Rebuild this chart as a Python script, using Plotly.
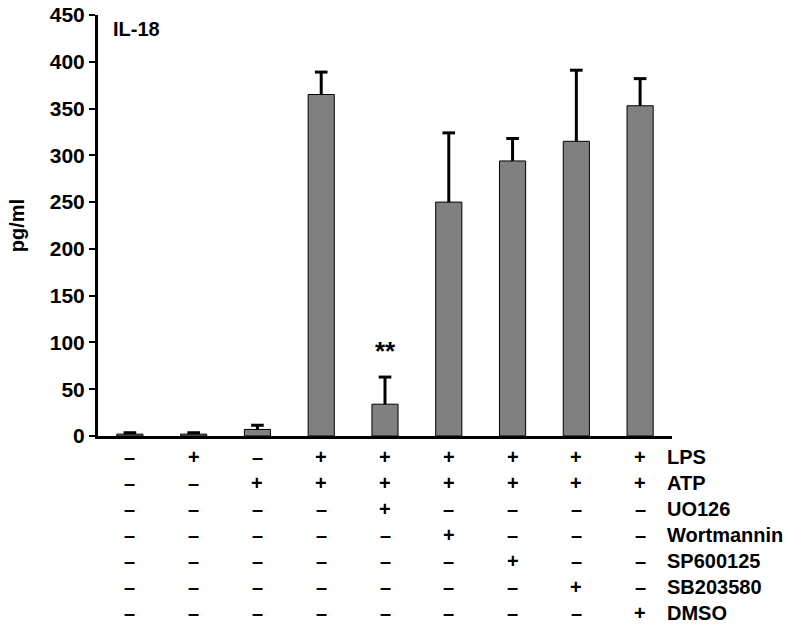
import plotly.graph_objects as go

# Data
conditions = ["c1", "c2", "c3", "c4", "c5", "c6", "c7", "c8", "c9"]
values = [2, 2, 7, 365, 34, 250, 294, 315, 353]
errors = [1.5, 1.5, 4.5, 24, 29, 74, 24, 76, 29]
row_labels = ["LPS", "ATP", "UO126", "Wortmannin", "SP600125", "SB203580", "DMSO"]
table = [
    ["–", "+", "–", "+", "+", "+", "+", "+", "+"],
    ["–", "–", "+", "+", "+", "+", "+", "+", "+"],
    ["–", "–", "–", "–", "+", "–", "–", "–", "–"],
    ["–", "–", "–", "–", "–", "+", "–", "–", "–"],
    ["–", "–", "–", "–", "–", "–", "+", "–", "–"],
    ["–", "–", "–", "–", "–", "–", "–", "+", "–"],
    ["–", "–", "–", "–", "–", "–", "–", "–", "+"],
]
tick_vals = [0, 50, 100, 150, 200, 250, 300, 350, 400, 450]
significance = {4: "**"}
panel_label = "IL-18"
y_title = "pg/ml"

FONT = "Liberation Sans, Arial, sans-serif"
W, H = 800, 630
ML, MR, MT, MB = 98, 128, 15, 194
plot_h = H - MT - MB
plot_w = W - ML - MR

xs = list(range(len(conditions)))
tops = [v + e for v, e in zip(values, errors)]

fig = go.Figure()
fig.add_trace(go.Bar(
    x=xs, y=values, width=0.41,
    marker=dict(color="#808080", line=dict(color="black", width=1)),
    error_y=dict(type="data", array=errors, arrayminus=[0] * len(errors),
                 symmetric=False, color="black", thickness=3, width=0),
    showlegend=False, hoverinfo="skip",
))
# error-bar caps (upper only)
fig.add_trace(go.Scatter(
    x=xs, y=tops, mode="markers",
    marker=dict(symbol="line-ew", size=9, line=dict(color="black", width=3)),
    showlegend=False, hoverinfo="skip",
))

annotations = []
# panel label
annotations.append(dict(text=panel_label, xref="paper", yref="paper",
                        x=13 / plot_w, y=1 - 14 / plot_h, xanchor="left", yanchor="middle",
                        showarrow=False, font=dict(family=FONT, size=20, color="black", weight="bold")))
# significance marks
for i, s in significance.items():
    annotations.append(dict(text=s, x=xs[i], y=tops[i] + 10, xref="x", yref="y",
                            xanchor="center", yanchor="bottom", showarrow=False,
                            font=dict(family=FONT, size=26, color="black", weight="bold")))
# treatment table
row_y0 = 457
row_step = 26
for r, (lab, row) in enumerate(zip(row_labels, table)):
    py = row_y0 + r * row_step
    yp = (H - MB - py) / plot_h
    for i, sym in enumerate(row):
        annotations.append(dict(text=sym, x=xs[i], y=yp, xref="x", yref="paper",
                                xanchor="center", yanchor="middle", showarrow=False,
                                font=dict(family=FONT, size=20, color="black", weight="bold")))
    annotations.append(dict(text=lab, x=(665 - ML) / plot_w, y=yp, xref="paper", yref="paper",
                            xanchor="left", yanchor="middle", showarrow=False,
                            font=dict(family=FONT, size=20, color="black", weight="bold")))

fig.update_layout(
    width=W, height=H,
    margin=dict(l=ML, r=MR, t=MT, b=MB, pad=0, autoexpand=False),
    paper_bgcolor="white", plot_bgcolor="white",
    annotations=annotations,
    bargap=0.59,
    xaxis=dict(range=[-0.5, 8.5], showticklabels=False, ticks="", showgrid=False,
               zeroline=False, showline=True, linecolor="black", linewidth=3, automargin=False),
    yaxis=dict(range=[0, 450], tickvals=tick_vals, ticks="outside", ticklen=6, tickwidth=2,
               tickcolor="black", showgrid=False, zeroline=False, showline=True,
               linecolor="black", linewidth=3, automargin=False,
               tickfont=dict(family=FONT, size=21, color="black", weight="bold"),
               title=dict(text=y_title, standoff=20,
                          font=dict(family=FONT, size=20, color="black", weight="bold"))),
)

fig.write_html("out.html", config={"displayModeBar": False},
               post_script="document.body.style.margin='0';document.body.style.overflow='hidden';")
